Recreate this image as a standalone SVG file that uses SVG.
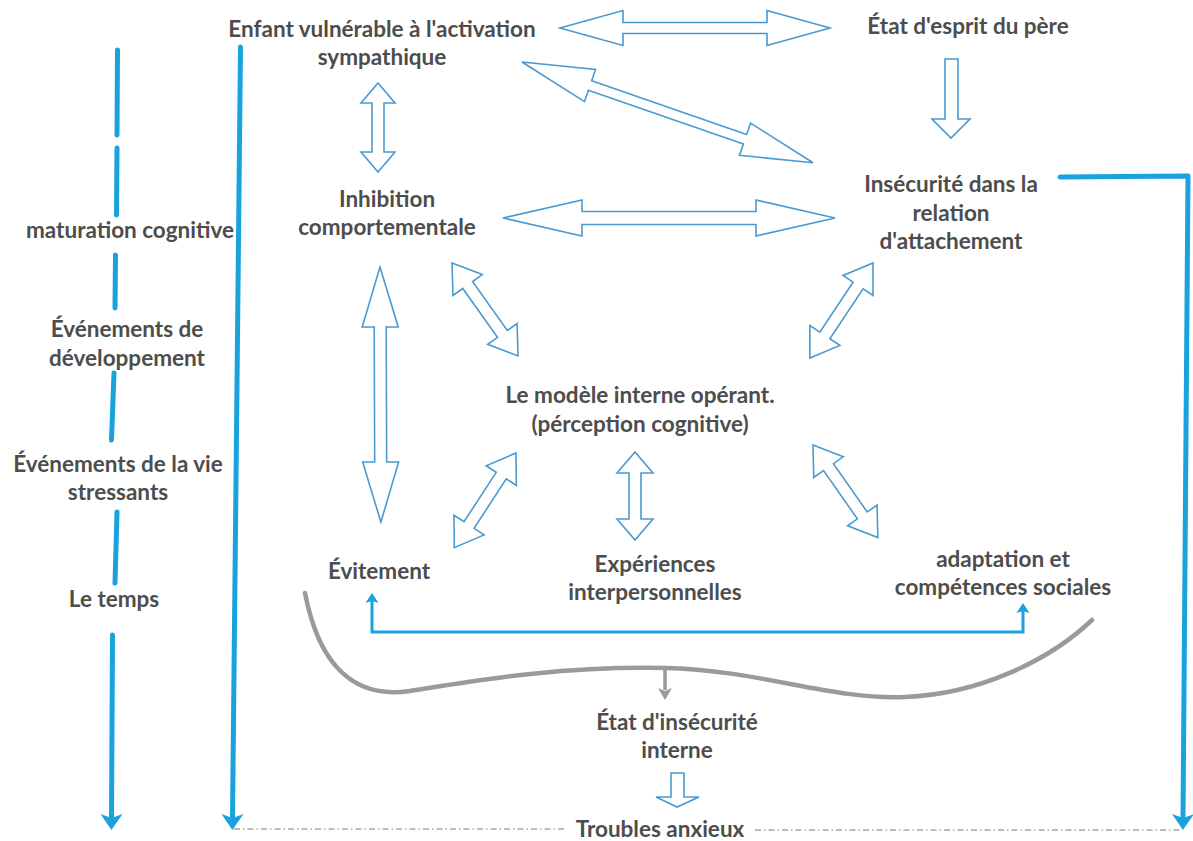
<svg xmlns="http://www.w3.org/2000/svg" width="1193" height="841" viewBox="0 0 1193 841">
<style>
text{font-family:Lato,"Liberation Sans",sans-serif;font-weight:700;font-size:22.5px;fill:#4d4d4d;text-anchor:middle}
.ha{fill:#fff;stroke:#4a9ad0;stroke-width:1.6;stroke-linejoin:miter}
.bl{fill:none;stroke:#1aa2de;stroke-width:5;stroke-linecap:round;stroke-linejoin:round}
.bt{fill:none;stroke:#1aa2de;stroke-width:3;stroke-linejoin:miter}
.gr{fill:none;stroke:#9a9a9a;stroke-width:4.5;stroke-linecap:round}
.dash{fill:none;stroke:#a8a8a8;stroke-width:1.3;stroke-dasharray:6 3 1.5 3}
</style>
<defs>
<marker id="ab" viewBox="-15 -15 30 30" markerWidth="30" markerHeight="30" markerUnits="userSpaceOnUse" refX="0" refY="0" orient="auto-start-reverse"><path d="M12,0 L-4,-11 L0,0 L-4,11 Z" fill="#1aa2de"/></marker>
<marker id="as" viewBox="-15 -15 30 30" markerWidth="30" markerHeight="30" markerUnits="userSpaceOnUse" refX="0" refY="0" orient="auto-start-reverse"><path d="M8,0 L-2,-6.5 L0,0 L-2,6.5 Z" fill="#1aa2de"/></marker>
<marker id="ag" viewBox="-15 -15 30 30" markerWidth="30" markerHeight="30" markerUnits="userSpaceOnUse" refX="0" refY="0" orient="auto"><path d="M10,0 L-2,-7 L1,0 L-2,7 Z" fill="#9a9a9a"/></marker>
</defs>

<g id="connectors">
  <!-- hollow double arrows -->
  <g transform="translate(560,28)"><polygon class="ha" points="0,0 63,-17.5 63,-5.5 207,-5.5 207,-17.5 270,0 207,17.5 207,5.5 63,5.5 63,17.5"/></g>
  <g transform="translate(522,62) rotate(19.1)"><polygon class="ha" points="0,0 72,-17 72,-5 236,-5 236,-17 308,0 236,17 236,5 72,5 72,17"/></g>
  <g transform="translate(378,83) rotate(90)"><polygon class="ha" points="0,0 20,-17 20,-6 69,-6 69,-17 89,0 69,17 69,6 20,6 20,17"/></g>
  <g transform="translate(503,218)"><polygon class="ha" points="0,0 79,-18 79,-6.5 253,-6.5 253,-18 332,0 253,18 253,6.5 79,6.5 79,18"/></g>
  <g transform="translate(380,267) rotate(89.8)"><polygon class="ha" points="0,0 60,-18 60,-6 195,-6 195,-18 255,0 195,18 195,6 60,6 60,18"/></g>
  <g transform="translate(452,263) rotate(54.6)"><polygon class="ha" points="0,0 27,-18 27,-6 87,-6 87,-18 114,0 87,18 87,6 27,6 27,18"/></g>
  <g transform="translate(873,263) rotate(123.6)"><polygon class="ha" points="0,0 27,-18 27,-6 87,-6 87,-18 114,0 87,18 87,6 27,6 27,18"/></g>
  <g transform="translate(516,453) rotate(123.1)"><polygon class="ha" points="0,0 27,-18 27,-6 86,-6 86,-18 113,0 86,18 86,6 27,6 27,18"/></g>
  <g transform="translate(635,452) rotate(90)"><polygon class="ha" points="0,0 21,-18 21,-6 67,-6 67,-18 88,0 67,18 67,6 21,6 21,18"/></g>
  <g transform="translate(813,445) rotate(55)"><polygon class="ha" points="0,0 27,-18 27,-6 86,-6 86,-18 113,0 86,18 86,6 27,6 27,18"/></g>
  <!-- hollow single arrows -->
  <polygon class="ha" points="945,59 958,59 958,119 970,119 951,138 932,119 945,119"/>
  <polygon class="ha" points="671,773 684,773 684,797 699,797 677,807 656,797 671,797"/>

  <!-- timeline dashed blue line -->
  <line class="bl" x1="117.5" y1="50" x2="117" y2="135"/>
  <line class="bl" x1="117" y1="148" x2="116.5" y2="215"/>
  <line class="bl" x1="115.5" y1="255" x2="115" y2="308"/>
  <line class="bl" x1="114" y1="373" x2="111.5" y2="440"/>
  <line class="bl" x1="117" y1="512" x2="115" y2="583"/>
  <line class="bl" x1="112.5" y1="635" x2="111.5" y2="818" marker-end="url(#ab)"/>
  <!-- long left line -->
  <line class="bl" x1="240.5" y1="47" x2="232.5" y2="818" marker-end="url(#ab)"/>
  <!-- right L line -->
  <path class="bl" d="M1060,177 L1188,176 L1183,818" marker-end="url(#ab)"/>
  <!-- bracket -->
  <path class="bt" d="M372,601 L372,632 L1023,632 L1023,611" marker-start="url(#as)" marker-end="url(#as)"/>
  <!-- grey brace -->
  <path class="gr" d="M305,593 C318,660 350,700 410,691 C480,680 560,666 665,668 C760,670 830,700 905,697 C980,694 1050,660 1092,620"/>
  <line x1="665" y1="669" x2="665" y2="690" stroke="#9a9a9a" stroke-width="3.5" marker-end="url(#ag)"/>
  <!-- dashed bottom -->
  <line class="dash" x1="234" y1="829" x2="564" y2="829"/>
  <line class="dash" x1="755" y1="830" x2="1180" y2="830"/>
</g>

<g id="n-enfant"><text x="382" y="37">Enfant vulnérable à l'activation</text><text x="382" y="65">sympathique</text></g>
<g id="n-pere"><text x="968" y="34">État d'esprit du père</text></g>
<g id="n-inhibition"><text x="387" y="207">Inhibition</text><text x="387" y="235">comportementale</text></g>
<g id="n-insecurite"><text x="951" y="192">Insécurité dans la</text><text x="951" y="221">relation</text><text x="951" y="249">d'attachement</text></g>
<g id="n-modele"><text x="640" y="403">Le modèle interne opérant.</text><text x="640" y="432">(pérception cognitive)</text></g>
<g id="n-evitement"><text x="379" y="579">Évitement</text></g>
<g id="n-experiences"><text x="655" y="572">Expériences</text><text x="655" y="600">interpersonnelles</text></g>
<g id="n-adaptation"><text x="1003" y="567">adaptation et</text><text x="1003" y="595">compétences sociales</text></g>
<g id="n-etat"><text x="677" y="730">État d'insécurité</text><text x="677" y="758">interne</text></g>
<g id="n-troubles"><text x="660" y="837">Troubles anxieux</text></g>
<g id="n-maturation"><text x="130" y="238">maturation cognitive</text></g>
<g id="n-dev"><text x="127" y="337">Événements de</text><text x="127" y="366">développement</text></g>
<g id="n-vie"><text x="118" y="472">Événements de la vie</text><text x="118" y="500">stressants</text></g>
<g id="n-temps"><text x="114" y="607">Le temps</text></g>
</svg>
